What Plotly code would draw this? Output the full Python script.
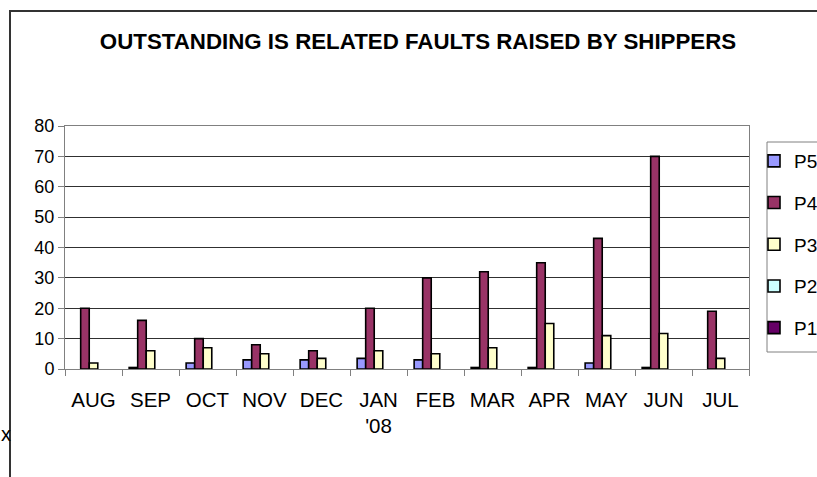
import plotly.graph_objects as go

# ---- data ----
categories = ["AUG", "SEP", "OCT", "NOV", "DEC", "JAN", "FEB", "MAR", "APR", "MAY", "JUN", "JUL"]
tick_labels = ["AUG", "SEP", "OCT", "NOV", "DEC", "JAN<br>'08", "FEB", "MAR", "APR", "MAY", "JUN", "JUL"]
series_names = ["P5", "P4", "P3", "P2", "P1"]
p5 = [0, 0.5, 2, 3, 3, 3.5, 3, 0.5, 0.5, 2, 0.5, 0]
p4 = [20, 16, 10, 8, 6, 20, 30, 32, 35, 43, 70, 19]
p3 = [2, 6, 7, 5, 3.5, 6, 5, 7, 15, 11, 11.7, 3.5]
p2 = [0, 0, 0, 0, 0, 0, 0, 0, 0, 0, 0, 0]
p1 = [0, 0, 0, 0, 0, 0, 0, 0, 0, 0, 0, 0]
colors = ["#9999FF", "#993366", "#FFFFCC", "#CCFFFF", "#660066"]

W, H = 817, 477
L, R, T, B = 65, 749, 126, 369  # plot area in px
pw, ph = R - L, B - T

def px_x(x):
    return (x - L) / pw

def px_y(y):
    return (B - y) / ph

SANS = "Liberation Sans, Arial, sans-serif"

fig = go.Figure()
for name, vals, col in zip(series_names, [p5, p4, p3, p2, p1], colors):
    fig.add_trace(go.Bar(
        x=categories,
        y=[v if v else None for v in vals],
        name=name,
        legendgroup=name,
        marker=dict(color=col, line=dict(color="black", width=1.6)),
    ))

fig.update_layout(
    width=W, height=H,
    margin=dict(l=L, r=W - R, t=T, b=H - B, pad=0, autoexpand=False),
    paper_bgcolor="white",
    plot_bgcolor="white",
    barmode="group",
    bargap=0.25,
    bargroupgap=0,
    title=dict(
        text="<b>OUTSTANDING IS RELATED FAULTS RAISED BY SHIPPERS</b>",
        x=418 / W, xanchor="center", xref="container",
        y=1 - 41 / H, yanchor="middle", yref="container",
        font=dict(family=SANS, size=22.3, color="black"),
    ),
    showlegend=True,
    legend=dict(
        x=px_x(754), xanchor="left",
        y=px_y(142), yanchor="top",
        bgcolor="rgba(0,0,0,0)",
        borderwidth=0,
        font=dict(family=SANS, size=19, color="black"),
        tracegroupgap=14,
        traceorder="grouped",
    ),
    font=dict(family=SANS, color="black"),
)

fig.update_xaxes(
    type="category",
    tickmode="array", tickvals=categories, ticktext=tick_labels,
    tickson="boundaries",
    ticks="outside", ticklen=6, tickcolor="#808080", tickwidth=1,
    showline=True, linecolor="#808080", linewidth=1, mirror=True,
    showgrid=False,
    tickangle=0,
    tickfont=dict(family=SANS, size=20.5, color="black"),
    ticklabelstandoff=12,
)
fig.update_yaxes(
    range=[0, 80], dtick=10, tick0=0,
    ticks="outside", ticklen=6, tickcolor="#808080", tickwidth=1,
    showline=True, linecolor="#808080", linewidth=1, mirror=True,
    showgrid=True, gridcolor="#303030", gridwidth=1,
    zeroline=False,
    tickfont=dict(family=SANS, size=18, color="black"),
)

# chart-area frame (top and left edges visible, rest off-canvas)
fig.add_shape(type="rect", xref="paper", yref="paper",
              x0=px_x(10), x1=px_x(860), y0=px_y(520), y1=px_y(11),
              line=dict(color="#333333", width=2), fillcolor="rgba(0,0,0,0)", layer="below")
# legend box
fig.add_shape(type="rect", xref="paper", yref="paper",
              x0=px_x(767), x1=px_x(840), y0=px_y(352), y1=px_y(142),
              line=dict(color="#808080", width=1), fillcolor="rgba(0,0,0,0)")

fig.add_annotation(text="x", xref="paper", yref="paper",
                   x=px_x(-1), y=px_y(434), xanchor="left", yanchor="middle",
                   showarrow=False, font=dict(family=SANS, size=20, color="black"))

fig.write_html(
    "out.html",
    config={"displayModeBar": False},
    post_script="document.body.style.margin='0';document.body.style.overflow='hidden';",
)
